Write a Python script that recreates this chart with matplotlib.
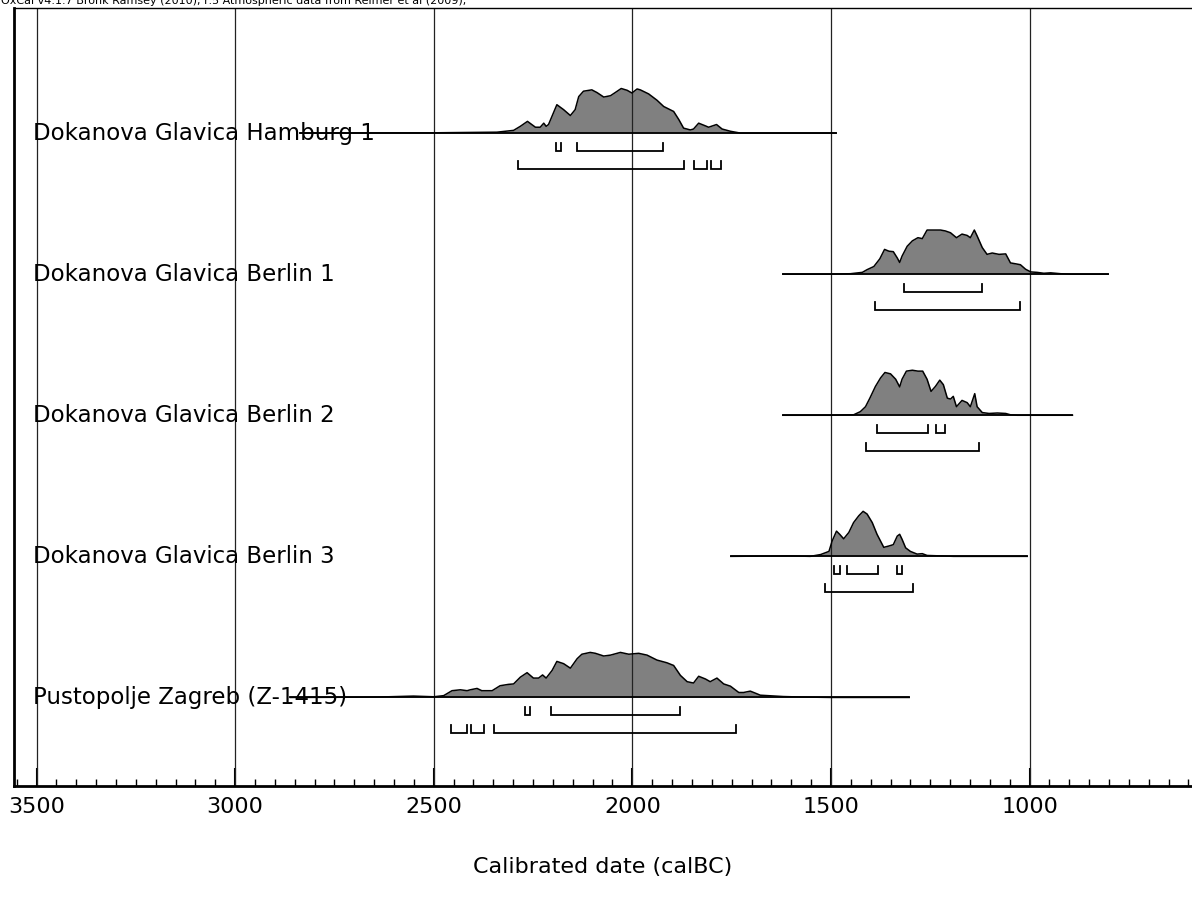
import numpy as np
import matplotlib.pyplot as plt
from matplotlib.ticker import MultipleLocator

# samples, top to bottom
names = [
    "Dokanova Glavica Hamburg 1",
    "Dokanova Glavica Berlin 1",
    "Dokanova Glavica Berlin 2",
    "Dokanova Glavica Berlin 3",
    "Pustopolje Zagreb (Z-1415)",
]

# probability curves (calBC, relative height)
hamburg1_yr = [2836, 2509, 2458, 2341, 2299, 2282, 2264, 2244, 2232, 2223, 2217, 2211,
               2190, 2173, 2156, 2144, 2135, 2123, 2102, 2089, 2072, 2055, 2043, 2028,
               2013, 2001, 1988, 1980, 1959, 1938, 1921, 1896, 1883, 1871, 1854, 1846,
               1833, 1816, 1808, 1788, 1774, 1753, 1728, 1487]
hamburg1_p = [0, 0.005, 0.01, 0.02, 0.06, 0.15, 0.26, 0.13, 0.13, 0.22, 0.15, 0.19,
              0.63, 0.52, 0.39, 0.52, 0.81, 0.93, 0.96, 0.90, 0.80, 0.83, 0.90, 0.99,
              0.95, 0.89, 0.98, 0.96, 0.87, 0.73, 0.59, 0.48, 0.30, 0.11, 0.07, 0.09,
              0.22, 0.16, 0.13, 0.19, 0.09, 0.04, 0.0, 0]

berlin1_yr = [1621, 1501, 1451, 1421, 1409, 1392, 1377, 1365, 1354, 1343, 1333, 1327,
              1321, 1308, 1295, 1281, 1270, 1258, 1241, 1224, 1212, 1199, 1184, 1170,
              1157, 1149, 1139, 1132, 1119, 1107, 1094, 1077, 1060, 1048, 1035, 1023,
              1010, 997, 981, 964, 947, 922, 897, 802]
berlin1_p = [0, 0, 0.01, 0.04, 0.10, 0.17, 0.34, 0.55, 0.51, 0.50, 0.36, 0.26,
             0.40, 0.62, 0.74, 0.81, 0.79, 0.98, 0.98, 0.98, 0.96, 0.92, 0.81, 0.89,
             0.86, 0.81, 0.98, 0.85, 0.59, 0.44, 0.47, 0.44, 0.45, 0.25, 0.23, 0.21,
             0.11, 0.05, 0.04, 0.02, 0.03, 0.01, 0, 0]

berlin2_yr = [1621, 1501, 1443, 1426, 1413, 1402, 1388, 1375, 1364, 1350, 1337, 1327,
              1321, 1310, 1295, 1281, 1269, 1258, 1248, 1237, 1226, 1217, 1207, 1199,
              1192, 1184, 1170, 1157, 1149, 1138, 1132, 1119, 1102, 1081, 1060, 1048,
              1031, 892]
berlin2_p = [0, 0, 0.01, 0.08, 0.19, 0.38, 0.64, 0.83, 0.95, 0.92, 0.80, 0.63,
             0.80, 0.98, 1.0, 0.98, 0.98, 0.80, 0.53, 0.64, 0.78, 0.68, 0.38, 0.36,
             0.42, 0.19, 0.33, 0.28, 0.19, 0.48, 0.19, 0.06, 0.04, 0.05, 0.04, 0.01,
             0, 0]

berlin3_yr = [1752, 1602, 1552, 1526, 1505, 1497, 1486, 1478, 1468, 1455, 1443, 1430,
              1419, 1409, 1396, 1384, 1367, 1354, 1343, 1333, 1327, 1321, 1312, 1300,
              1283, 1270, 1258, 1224, 1191, 1006]
berlin3_p = [0, 0.01, 0, 0.04, 0.11, 0.34, 0.56, 0.49, 0.39, 0.53, 0.75, 0.90,
             1.0, 0.94, 0.75, 0.49, 0.20, 0.23, 0.26, 0.45, 0.49, 0.38, 0.19, 0.11,
             0.05, 0.06, 0.02, 0.01, 0, 0]

zagreb_yr = [2861, 2700, 2635, 2551, 2500, 2475, 2454, 2433, 2416, 2408, 2391, 2379,
             2353, 2333, 2312, 2299, 2282, 2265, 2249, 2236, 2226, 2217, 2202, 2190,
             2173, 2156, 2139, 2127, 2106, 2093, 2072, 2055, 2030, 2009, 1984, 1963,
             1938, 1913, 1896, 1879, 1862, 1846, 1833, 1816, 1804, 1787, 1770, 1753,
             1732, 1720, 1703, 1686, 1678, 1620, 1577, 1501, 1303]
zagreb_p = [0, 0.005, 0.01, 0.03, 0.015, 0.04, 0.15, 0.17, 0.15, 0.17, 0.20, 0.15,
            0.15, 0.26, 0.29, 0.30, 0.45, 0.55, 0.43, 0.43, 0.50, 0.43, 0.60, 0.80,
            0.75, 0.65, 0.86, 0.96, 1.0, 0.98, 0.92, 0.94, 1.0, 0.96, 0.98, 0.94,
            0.83, 0.77, 0.71, 0.49, 0.35, 0.32, 0.47, 0.41, 0.35, 0.43, 0.30, 0.25,
            0.11, 0.11, 0.14, 0.08, 0.05, 0.02, 0.01, 0, 0]

curves_yr = [hamburg1_yr, berlin1_yr, berlin2_yr, berlin3_yr, zagreb_yr]
curves_p = [hamburg1_p, berlin1_p, berlin2_p, berlin3_p, zagreb_p]

# 68.2% and 95.4% ranges (calBC, from, to)
range68 = [
    [(2191, 2180), (2140, 1924)],
    [(1315, 1120)],
    [(1385, 1255), (1236, 1213)],
    [(1493, 1476), (1459, 1381), (1333, 1322)],
    [(2270, 2257), (2205, 1881)],
]
range95 = [
    [(2288, 1870), (1846, 1813), (1803, 1776)],
    [(1390, 1025)],
    [(1411, 1127)],
    [(1516, 1294)],
    [(2456, 2416), (2406, 2373), (2349, 1739)],
]

major_ticks = [3500, 3000, 2500, 2000, 1500, 1000]

W, H = 1192, 907
fig = plt.figure(figsize=(W / 100, H / 100), dpi=100)
ax = fig.add_axes([13.5 / W, (H - 786) / H, 1 - 13.5 / W, 778 / H])

n = len(names)
row_px = 141.0
peak = 45 / row_px
off1, off2, tick = 18 / row_px, 36 / row_px, 8 / row_px

for i, name in enumerate(names):
    base = n - 1 - i
    yr = np.array(curves_yr[i])
    p = np.array(curves_p[i])
    ax.fill_between(yr, base, base + p * peak, color="#808080", lw=0, zorder=2)
    ax.plot(yr, base + p * peak, color="black", lw=1.1, solid_joinstyle="round",
            zorder=3)
    ax.plot([yr[0], yr[-1]], [base, base], color="black", lw=1.3, zorder=3)
    ax.text(3508, base - 0.05, name, fontsize=16.5, ha="left", va="baseline", zorder=4)

    # 68.2% row first, 95.4% row below it
    for ranges, off in ((range68[i], off1), (range95[i], off2)):
        y = base - off
        for a, b in ranges:
            ax.plot([a, a, b, b], [y + tick, y, y, y + tick], color="black",
                    lw=1.3, solid_joinstyle="miter", zorder=3)

ax.set_xlim(3558, 591)
ax.set_ylim(-(786 - 697.5) / row_px, n - 1 + (133 - 8) / row_px)

ax.set_xticks(major_ticks)
ax.xaxis.set_minor_locator(MultipleLocator(50))
ax.set_yticks([])
ax.tick_params(axis="x", which="major", direction="in", length=13, width=1.5,
               labelsize=16, pad=8)
ax.tick_params(axis="x", which="minor", direction="in", length=5, width=1)
for x in major_ticks:
    ax.axvline(x, color="#222222", lw=0.9, zorder=2.5)

ax.spines["left"].set_linewidth(2)
ax.spines["bottom"].set_linewidth(2)
ax.spines["top"].set_linewidth(1)
ax.spines["right"].set_visible(False)

ax.set_xlabel("Calibrated date (calBC)", fontsize=16, labelpad=29)

fig.text(0.001, 1 - 4.5 / H,
         "OxCal v4.1.7 Bronk Ramsey (2010); r:5 Atmospheric data from Reimer et al (2009);",
         fontsize=8, ha="left", va="baseline")

fig.savefig("out.png", dpi=100)
